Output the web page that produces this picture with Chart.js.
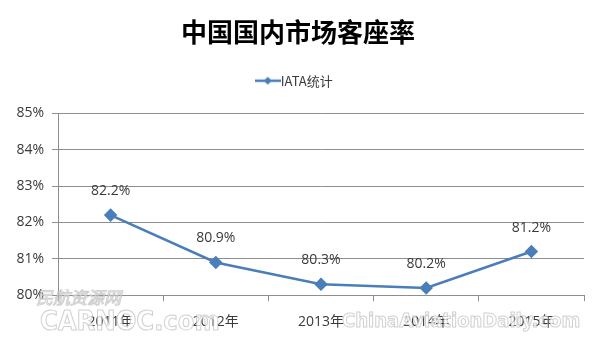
<!DOCTYPE html>
<html>
<head>
<meta charset="utf-8">
<script src="https://cdn.jsdelivr.net/npm/chart.js@4"></script>
<style>
  html, body { margin: 0; padding: 0; background: #fff; }
  #wrap { width: 600px; height: 349px; }
</style>
</head>
<body>
<div id="wrap"><canvas id="loadFactor"></canvas></div>
<script>
const years = ['2011年', '2012年', '2013年', '2014年', '2015年']
const iataRate = [82.2, 80.9, 80.3, 80.2, 81.2]
const yTicks = [80, 81, 82, 83, 84, 85]

const BLUE = '#4A7EBB'
const GRID = '#8e8e8e'
const TEXT = '#3a3a3a'
const NUM_FONT = '"Open Sans", "Noto Sans CJK SC", sans-serif'

// legend marker: short line with a diamond in the middle
const marker = document.createElement('canvas')
marker.width = 26
marker.height = 10
const mctx = marker.getContext('2d')
mctx.strokeStyle = BLUE
mctx.lineWidth = 2.5
mctx.beginPath()
mctx.moveTo(0, 5)
mctx.lineTo(26, 5)
mctx.stroke()
mctx.fillStyle = BLUE
mctx.beginPath()
mctx.moveTo(13, 1)
mctx.lineTo(17, 5)
mctx.lineTo(13, 9)
mctx.lineTo(9, 5)
mctx.closePath()
mctx.fill()

// extra gap under the legend, and centre title/legend on the page
const headerLayout = {
  id: 'headerLayout',
  beforeInit(chart) {
    const legend = chart.legend
    const fit = legend.fit
    legend.fit = function () {
      fit.call(this)
      this.height += 16
    }
  },
  afterLayout(chart) {
    chart.titleBlock.left += 6
    chart.titleBlock.right += 6
    chart.legend.left += 5
    chart.legend.right += 5
  }
}

// value labels above each point
const valueLabels = {
  id: 'valueLabels',
  afterDatasetsDraw(chart) {
    const ctx = chart.ctx
    const meta = chart.getDatasetMeta(0)
    ctx.save()
    ctx.font = '14px ' + NUM_FONT
    ctx.fillStyle = TEXT
    ctx.textAlign = 'center'
    ctx.textBaseline = 'middle'
    meta.data.forEach((pt, i) => {
      ctx.fillText(iataRate[i].toFixed(1) + '%', pt.x, pt.y - 24)
    })
    ctx.restore()
  }
}

// faint site watermark along the bottom
const watermark = {
  id: 'watermark',
  afterDraw(chart) {
    const ctx = chart.ctx
    ctx.save()
    ctx.fillStyle = 'rgba(255,255,255,0.75)'
    ctx.strokeStyle = 'rgba(170,170,170,0.55)'
    ctx.lineWidth = 1
    ctx.textBaseline = 'middle'
    ctx.font = 'italic 17px "Noto Sans CJK SC", sans-serif'
    ctx.fillText('民航资源网', 36, 298)
    ctx.strokeText('民航资源网', 36, 298)
    ctx.font = 'bold 27px "DejaVu Sans Condensed", sans-serif'
    ctx.fillText('CARNOC.com', 40, 323)
    ctx.strokeText('CARNOC.com', 40, 323)
    ctx.font = 'bold 20px "DejaVu Sans Condensed", sans-serif'
    ctx.fillText('ChinaAviationDaily.com', 342, 322)
    ctx.strokeText('ChinaAviationDaily.com', 342, 322)
    ctx.restore()
  }
}

const ctx = document.getElementById('loadFactor').getContext('2d')
new Chart(ctx, {
  type: 'line',
  data: {
    labels: years,
    datasets: [{
      label: 'IATA统计',
      data: iataRate,
      borderColor: BLUE,
      backgroundColor: BLUE,
      borderWidth: 2.5,
      pointStyle: 'rectRot',
      pointRadius: 5,
      pointHoverRadius: 5,
      tension: 0
    }]
  },
  options: {
    responsive: true,
    maintainAspectRatio: false,
    animation: false,
    events: [],
    layout: { padding: { left: 0, right: 16, top: 0, bottom: 7 } },
    plugins: {
      title: {
        display: true,
        text: '中国国内市场客座率',
        color: '#000',
        font: { family: '"Noto Sans CJK SC", sans-serif', size: 26, weight: 'bold' },
        padding: { top: 17, bottom: -4 }
      },
      legend: {
        display: true,
        labels: {
          usePointStyle: true,
          pointStyle: marker,
          color: TEXT,
          font: { family: '"Noto Sans CJK SC", sans-serif', size: 13 },
          padding: 30,
          generateLabels(chart) {
            return chart.data.datasets.map((ds, i) => ({
              text: ds.label,
              pointStyle: marker,
              fontColor: TEXT,
              datasetIndex: i,
              lineWidth: 0
            }))
          }
        }
      },
      tooltip: { enabled: false }
    },
    scales: {
      x: {
        offset: true,
        grid: {
          offset: true,
          drawOnChartArea: false,
          drawTicks: true,
          tickLength: 6,
          color: GRID
        },
        border: { color: GRID },
        ticks: {
          color: TEXT,
          font: { family: NUM_FONT, size: 14 },
          padding: 12
        }
      },
      y: {
        min: yTicks[0],
        max: yTicks[yTicks.length - 1],
        afterBuildTicks(axis) {
          axis.ticks = yTicks.map(v => ({ value: v }))
        },
        afterFit(axis) {
          axis.width = 58
        },
        grid: {
          color: GRID,
          tickLength: 6
        },
        border: { color: GRID },
        ticks: {
          color: TEXT,
          font: { family: NUM_FONT, size: 14 },
          padding: 8,
          callback: v => v + '%'
        }
      }
    }
  },
  plugins: [headerLayout, valueLabels, watermark]
})
</script>
</body>
</html>
